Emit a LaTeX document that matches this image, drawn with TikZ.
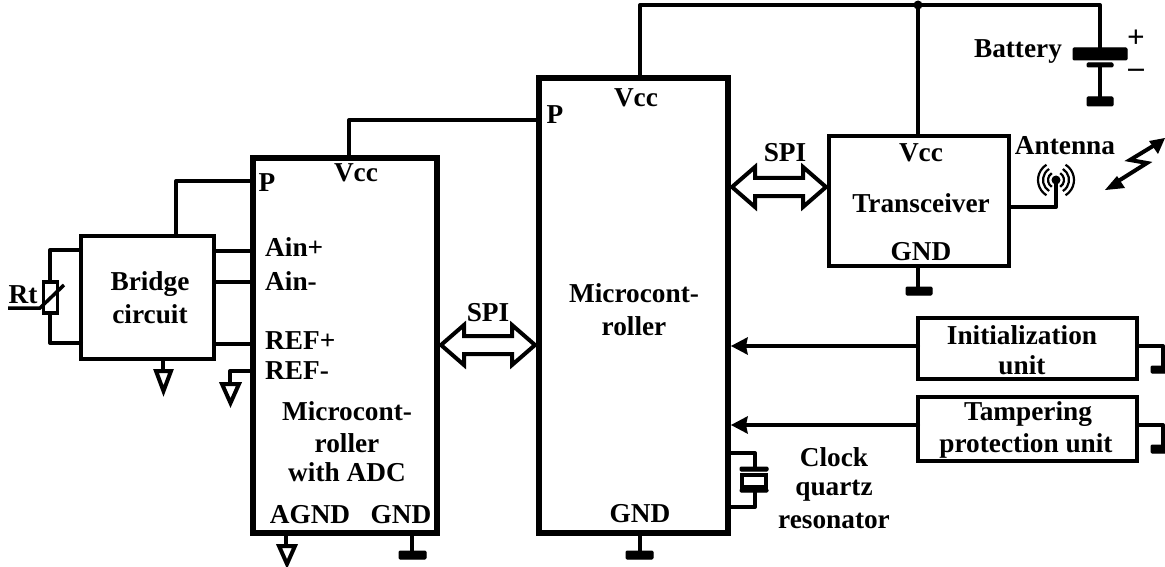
\documentclass[tikz,border=0pt]{standalone}
\usepackage{fontspec}
\setmainfont{Liberation Serif}[BoldFont={Liberation Serif Bold}]
\usetikzlibrary{calc}
\tikzset{
  x=1pt,y=-1pt,
  lbl/.style={inner sep=0pt,font=\bfseries\fontsize{27.3}{30}\selectfont,text=black,text height=24pt,text depth=6pt},
  lbll/.style={lbl,anchor=west},
  signl/.style={lbl,font=\bfseries\fontsize{31}{32}\selectfont},
  box/.style={draw=black,line width=#1,fill=white,inner sep=0pt,outer sep=0pt,rectangle},
  wire/.style={draw=black,line width=4pt,line cap=round,line join=round},
  gndtri/.style={draw=black,line width=4pt,fill=white,line join=miter},
  gndbar/.style={draw=black,fill=black,line width=1pt,rounded corners=1pt},
  bus/.style={draw=black,line width=4pt,fill=white,line join=miter},
  tipa/.style={fill=black,draw=none},
  rings/.style={draw=black,line width=2.2pt}
}
\newcommand{\bx}[6]{\node[box=#6] (#1) at ({(#2+#4)/2},{(#3+#5)/2}) [minimum width={(#4-#2)*1pt},minimum height={(#5-#3)*1pt}] {};}
\newcommand{\busarrow}[3]{% x1,x2,y
  \path[bus] (#1,#3) -- (#1+23,#3-20) -- (#1+23,#3-9) -- (#2-23,#3-9) -- (#2-23,#3-20) -- (#2,#3) -- (#2-23,#3+20) -- (#2-23,#3+9) -- (#1+23,#3+9) -- (#1+23,#3+20) -- cycle;}
\begin{document}
\begin{tikzpicture}
\useasboundingbox (0,0) rectangle (1165,567);
% blocks
\bx{bridge}{81}{236}{214}{359}{4pt}
\bx{adc}{253}{158}{437}{533}{6.5pt}
\bx{mcu}{539}{78}{728}{533}{6.5pt}
\bx{trx}{829}{136}{1009}{266}{4pt}
\bx{init}{918}{318}{1137}{379}{4pt}
\bx{tamp}{918}{397}{1137}{461}{4pt}
% coordinates
\coordinate (topL) at (640,5);
\coordinate (topM) at (918,5);
\coordinate (topR) at (1100,5);
\coordinate (battP) at (1100,54);
\coordinate (battN) at (1100,66);
\coordinate (battG) at (1100,100);
\coordinate (rtT) at (50,282);
\coordinate (rtB) at (50,313);
\coordinate (antF) at (1056,180);
% power wires
\draw[wire] (mcu.north -| topL) -- (topL) -- (topR) -- (battP);
\draw[wire] (topM) -- (trx.north -| topM);
\fill (topM) circle (4.5);
\draw[wire] (battN) -- (battG);
\draw[gndbar] (1073,48) rectangle (1127,60);
\draw[gndbar] (1087,63) rectangle (1113,67);
\draw[gndbar] (1087,97) rectangle (1113,106);
\draw[wire] (adc.north -| 349,0) -- (349,120) -- (mcu.west |- 0,120);
\draw[wire] (bridge.north -| 176,0) -- (176,181) -- (adc.west |- 0,181);
% bridge to adc
\draw[wire] (bridge.east |- 0,251) -- (adc.west |- 0,251);
\draw[wire] (bridge.east |- 0,282) -- (adc.west |- 0,282);
\draw[wire] (bridge.east |- 0,344) -- (adc.west |- 0,344);
% Rt
\draw[wire] (bridge.west |- 0,250) -- (50,250) -- (rtT);
\draw[wire] (rtB) -- (50,343) -- (bridge.west |- 0,343);
\node[box=3.5pt,minimum width=14pt,minimum height=31pt] (rt) at (50.5,297.5) {};
\draw[draw=black,line width=3.5pt] (8,308) -- (40,308) -- (64,285);
\node[lbl] (rtl) at (23,294) {Rt};
% grounds
\draw[wire] (163,359) -- (163,372);
\path[gndtri] (156,371) -- (171,371) -- (163.5,391) -- cycle;
\draw[wire] (adc.west |- 0,371) -- (230,371) -- (230,385);
\path[gndtri] (222,384) -- (239,384) -- (230.5,403) -- cycle;
\draw[wire] (286,533) -- (286,547);
\path[gndtri] (279,546) -- (295,546) -- (287,564) -- cycle;
\draw[wire] (412,533) -- (412,552);
\draw[gndbar] (399,551) rectangle (426,559);
\draw[wire] (640,533) -- (640,552);
\draw[gndbar] (626,551) rectangle (653,559);
\draw[wire] (918,266) -- (918,288);
\draw[gndbar] (906,287) rectangle (932,295);
% SPI
\busarrow{441}{535}{345}
\busarrow{732}{826}{187}
% unit arrows
\draw[wire] (init.west |- 0,346) -- (745,346);
\path[tipa] (731,346) -- (748,337) -- (746,346) -- (748,355) -- cycle;
\draw[wire] (tamp.west |- 0,425) -- (745,425);
\path[tipa] (731,425) -- (748,416) -- (746,425) -- (748,434) -- cycle;
% unit grounds
\draw[wire] (init.east |- 0,346) -- (1163,346) -- (1163,369);
\draw[gndbar] (1151,366) rectangle (1166,373);
\draw[wire] (tamp.east |- 0,425) -- (1163,425) -- (1163,447);
\draw[gndbar] (1151,445) rectangle (1166,453);
% crystal
\draw[wire] (mcu.east |- 0,453) -- (755,453) -- (755,468);
\draw[wire] (755,492) -- (755,507) -- (mcu.east |- 0,507);
\draw[gndbar] (740,467) rectangle (768,471);
\node[box=3.5pt,minimum width=24pt,minimum height=12pt] (xtal) at (754,481) {};
\draw[gndbar] (740,489) rectangle (768,492);
% antenna
\draw[wire] (trx.east |- 0,207) -- (1056,207) -- (antF);
\fill (antF) circle (4.5);
\foreach \r in {8,13,18}{
 \draw[rings] ($(antF)+(-58:\r)$) arc (-58:58:\r);
 \draw[rings] ($(antF)+(122:\r)$) arc (122:238:\r);
}
% radio link
\draw[line width=4pt,line join=miter] (1112,185) -- (1147,163) -- (1130,160) -- (1158,143);
\path[tipa] (1105,190) -- (1117,176) -- (1125,188) -- cycle;
\path[tipa] (1165,138) -- (1149,141) -- (1158,154) -- cycle;
% labels
\node[lbl] (l1) at (267,182) {P};
\node[lbl] (l2) at (356,173) {Vcc};
\node[lbll] (l3) at (265,247) {Ain+};
\node[lbll] (l4) at (265,281) {Ain-};
\node[lbll] (l5) at (265,340) {REF+};
\node[lbll] (l6) at (265,370) {REF-};
\node[lbl] (l7) at (347,411) {Microcont-};
\node[lbl] (l8) at (347,443) {roller};
\node[lbl] (l9) at (347,472) {with ADC};
\node[lbl] (l10) at (310,514) {AGND};
\node[lbl] (l11) at (401,514) {GND};
\node[lbl] (l12) at (150,281) {Bridge};
\node[lbl] (l13) at (150,314) {circuit};
\node[lbl] (l14) at (488,312) {SPI};
\node[lbl] (l15) at (555,115) {P};
\node[lbl] (l16) at (636,98) {Vcc};
\node[lbl] (l17) at (634,293) {Microcont-};
\node[lbl] (l18) at (634,326) {roller};
\node[lbl] (l19) at (640,513) {GND};
\node[lbl] (l20) at (785,152) {SPI};
\node[lbl] (l21) at (921,153) {Vcc};
\node[lbl] (l22) at (921,203) {Transceiver};
\node[lbl] (l23) at (921,251) {GND};
\node[lbl] (l24) at (1065,146) {Antenna};
\node[lbl] (l25) at (1018,49) {Battery};
\node[signl] (l26) at (1136,39) {+};
\node[signl] (l27) at (1136,69) {–};
\node[lbl] (l28) at (1022,335) {Initialization};
\node[lbl] (l29) at (1022,365) {unit};
\node[lbl] (l30) at (1028,411) {Tampering};
\node[lbl] (l31) at (1026,443) {protection unit};
\node[lbl] (l32) at (834,457) {Clock};
\node[lbl] (l33) at (834,486) {quartz};
\node[lbl] (l34) at (834,519) {resonator};
\end{tikzpicture}
\end{document}
